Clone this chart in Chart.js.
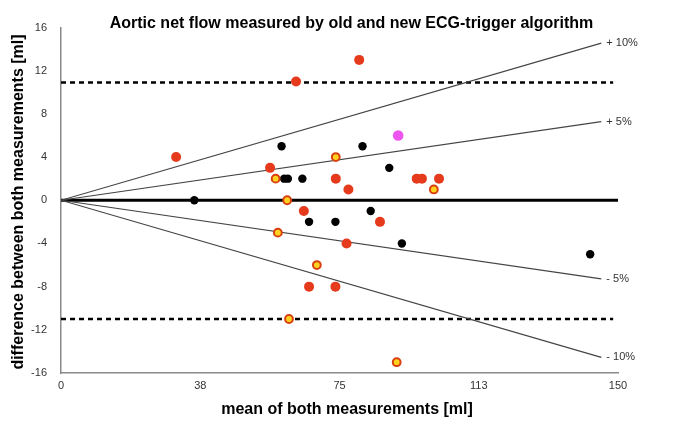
<!DOCTYPE html>
<html><head><meta charset="utf-8">
<script src="https://cdn.jsdelivr.net/npm/chart.js@4.4.1/dist/chart.umd.min.js"></script>
<style>html,body{margin:0;padding:0;background:#fff}#wrap{width:685px;height:437px;position:relative}</style>
</head><body><div id="wrap"><canvas id="c"></canvas></div>
<script>
// ---- text ----
const titleText = "Aortic net flow measured by old and new ECG-trigger algorithm";
const xTitle = "mean of both measurements [ml]";
const yTitle = "difference between both measurements [ml]";

// ---- ticks ----
const xTickValues = [0, 37.5, 75, 112.5, 150];
const yTickValues = [-16, -12, -8, -4, 0, 4, 8, 12, 16];

// ---- data: mean (x) and difference (y) ----
const redX = [31, 63.3, 80.3, 56.3, 74, 77.4, 65.4, 85.9, 76.9, 66.8, 73.9, 95.8, 97.2, 101.8];
const redY = [4, 11, 13, 3, 2, 1, -1, -2, -4, -8, -8, 2, 2, 2];
const ringX = [57.8, 74, 60.9, 58.4, 68.9, 61.4, 90.4, 100.4];
const ringY = [2, 4, 0, -3, -6, -11, -15, 1];
const blackX = [35.9, 59.4, 60.1, 61.1, 65, 81.2, 88.4, 66.8, 73.9, 83.4, 91.8, 142.5];
const blackY = [0, 5, 2, 2, 2, 5, 3, -2, -2, -1, -4, -5];
const magentaX = [90.8];
const magentaY = [6];

// ---- reference lines ----
const upperLimit = 10.9;
const lowerLimit = -11;
const limitEndX = 148.7;
const zeroEndX = 150;
const percentLines = [10, 5, -5, -10];
const percentLabels = ["+ 10%", "+ 5%", "- 5%", "- 10%"];
const percentEndX = 145.5;

const pts = (xs, ys) => xs.map((x, i) => ({x, y: ys[i]}));
const FONT = "'Liberation Sans', Arial, Helvetica, sans-serif";

const datasets = [
  {label: 'red', data: pts(redX, redY), backgroundColor: '#e63a1c', borderWidth: 0, pointRadius: 5, order: 0},
  {label: 'ring', data: pts(ringX, ringY), backgroundColor: '#ffd21f', borderColor: '#d8400f', borderWidth: 2, pointRadius: 3.9, order: 0},
  {label: 'black', data: pts(blackX, blackY), backgroundColor: '#000', borderWidth: 0, pointRadius: 4.2, order: 0},
  {label: 'magenta', data: pts(magentaX, magentaY), backgroundColor: '#ee55ee', borderWidth: 0, pointRadius: 5.3, order: 0},
  {label: 'zero', type: 'line', data: [{x: 0, y: 0}, {x: zeroEndX, y: 0}], borderColor: '#000', borderWidth: 3, pointRadius: 0, order: 2},
  {label: 'upper', type: 'line', data: [{x: 0, y: upperLimit}, {x: limitEndX, y: upperLimit}], borderColor: '#000', borderWidth: 2.5, borderDash: [5, 4], pointRadius: 0, order: 2},
  {label: 'lower', type: 'line', data: [{x: 0, y: lowerLimit}, {x: limitEndX, y: lowerLimit}], borderColor: '#000', borderWidth: 2.5, borderDash: [5, 4], pointRadius: 0, order: 2}
];
percentLines.forEach((p, i) => {
  datasets.push({label: percentLabels[i], type: 'line', data: [{x: 0, y: 0}, {x: percentEndX, y: p * percentEndX / 100}],
    borderColor: '#444', borderWidth: 1.2, pointRadius: 0, order: 1});
});

const textPlugin = {
  id: 'texts',
  afterDraw(chart) {
    const ctx = chart.ctx, xs = chart.scales.x, ys = chart.scales.y;
    ctx.save();
    ctx.fillStyle = '#000';
    ctx.font = "bold 16px " + FONT;
    ctx.textAlign = 'center';
    ctx.textBaseline = 'alphabetic';
    ctx.fillText(titleText, 351.5, 28);
    ctx.textBaseline = 'middle';
    ctx.fillText(xTitle, 347, 410);
    ctx.save();
    ctx.translate(19, 202);
    ctx.rotate(-Math.PI / 2);
    ctx.fillText(yTitle, 0, 0);
    ctx.restore();
    ctx.font = "11px " + FONT;
    ctx.fillStyle = '#333';
    ctx.textAlign = 'left';
    percentLines.forEach((p, i) => {
      ctx.fillText(percentLabels[i], xs.getPixelForValue(percentEndX) + 5, ys.getPixelForValue(p * percentEndX / 100));
    });
    ctx.restore();
  }
};

new Chart(document.getElementById('c'), {
  type: 'scatter',
  data: {datasets},
  options: {
    responsive: true, maintainAspectRatio: false, animation: false,
    layout: {padding: {top: 27.5, right: 67, left: 0, bottom: 0}},
    plugins: {legend: {display: false}, tooltip: {enabled: false}, title: {display: false}},
    scales: {
      x: {
        type: 'linear', min: 0, max: 150,
        afterBuildTicks: s => { s.ticks = xTickValues.map(v => ({value: v})); },
        afterFit: s => { s.height = 64; },
        ticks: {callback: v => String(Math.round(v)), font: {size: 11, family: FONT}, color: '#333', padding: 6, maxRotation: 0, autoSkip: false},
        grid: {display: false, drawTicks: false},
        border: {display: true, color: '#8a8a8a', width: 1.5}
      },
      y: {
        type: 'linear', min: -16, max: 16,
        afterBuildTicks: s => { s.ticks = yTickValues.map(v => ({value: v})); },
        afterFit: s => { s.width = 61; },
        ticks: {font: {size: 11, family: FONT}, color: '#333', padding: 14, autoSkip: false},
        grid: {display: false, drawTicks: false},
        border: {display: true, color: '#8a8a8a', width: 1.5}
      }
    }
  },
  plugins: [textPlugin]
});
</script>
</body></html>
